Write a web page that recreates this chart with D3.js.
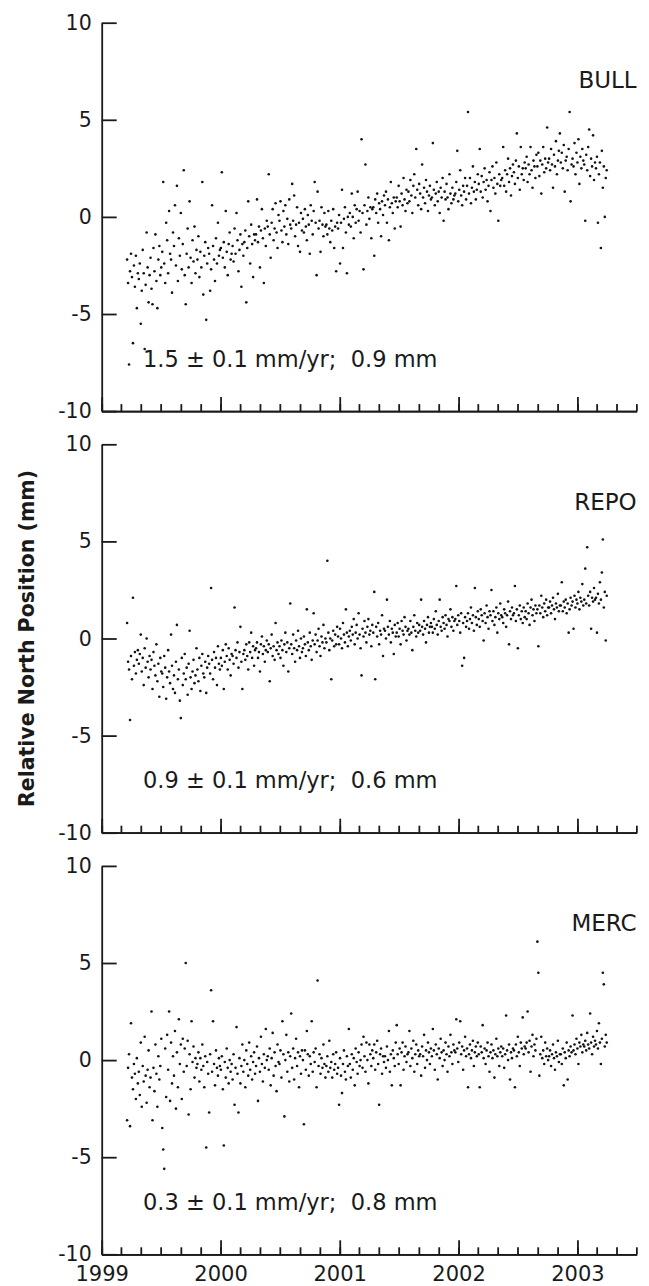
<!DOCTYPE html>
<html>
<head>
<meta charset="utf-8">
<script src="https://cdn.jsdelivr.net/npm/d3@7"></script>
<style>
  body { margin: 0; background: #fff; }
  text { font-family: "DejaVu Sans", sans-serif; fill: #1a1a1a; }
</style>
</head>
<body>
<svg id="chart" width="649" height="1286"></svg>
<script>
// station names and the fitted rate text for each panel
const stations = ["BULL", "REPO", "MERC"];
const rateLabels = [
    "1.5 \u00b1 0.1 mm/yr;  0.9 mm",
    "0.9 \u00b1 0.1 mm/yr;  0.6 mm",
    "0.3 \u00b1 0.1 mm/yr;  0.8 mm"
];
const yTicks = [-10, -5, 0, 5, 10];
const yTitle = "Relative North Position (mm)";

// north position (mm), one value every 3 days from 1999-03-20
const bullNorth = [
    -2.2, -3.4, -7.6, -2.8, -1.9, -3.1, -6.5, -2.5, -3.6, -2.0, -4.7, -2.9,
    -3.2, -2.4, -5.5, -3.8, -1.7, -2.9, -6.8, -3.5, -0.8, -2.6, -4.4, -3.0,
    -2.1, -3.7, -4.5, -1.6, -2.8, -0.9, -3.3, -4.7, -2.2, -1.5, -3.0, -2.6,
    -1.8, 1.8, -2.4, -3.4, -0.3, -1.2, -2.9, 0.3, -1.9, -2.2, -3.9, -0.8,
    -1.5, 0.6, -2.5, 1.6, -3.3, -1.1, -2.0, 0.2, -2.7, -1.4, 2.4, -3.0,
    -4.5, -1.9, -0.6, -2.6, 0.8, -2.1, -3.4, -1.2, -2.3, -0.5, -2.9, -1.7,
    -2.2, -1.0, -3.1, -1.8, -2.6, 1.8, -4.0, -2.0, -1.3, -5.3, -2.4, -1.6,
    -1.9, -3.8, -2.7, 0.6, -1.5, -2.2, -3.3, -1.1, -2.4, -0.3, -2.0, -1.7,
    -1.6, 2.3, -2.1, -1.3, -2.6, 0.3, -1.8, -3.0, -1.4, -0.8, -2.2, -1.9,
    -1.5, -2.3, -0.6, -1.9, 0.2, -1.2, -2.8, -1.7, -0.9, -3.6, -1.4, -2.0,
    -1.3, -0.7, -4.4, -1.6, 0.8, -1.0, -2.4, -0.4, -1.4, -3.1, -0.9, -1.2,
    -0.9, 0.9, -1.3, -0.5, -2.6, -0.7, 0.4, -1.1, -3.4, -0.6, -1.5, -0.2,
    -0.5, 2.2, -0.9, -2.1, -0.3, 0.4, -1.2, -0.6, 0.7, -0.8, -1.6, 0.1,
    -0.2, 0.8, -0.7, -1.3, 0.3, -0.5, 0.6, -0.9, -0.1, -1.4, 0.9, -0.4,
    -0.6, 1.7, -0.2, 1.1, -1.0, -0.4, 0.5, -1.5, -0.3, -1.8, 0.2, -0.7,
    -0.1, -0.8, 0.4, -0.5, -1.2, 0.1, -0.4, -1.9, 0.6, -0.2, -0.9, 0.3,
    1.8, -0.3, -3.0, 1.3, -0.6, -0.2, -1.8, 0.5, -0.4, -1.0, 0.2, -0.5,
    -0.4, -0.9, 0.3, -0.6, -1.3, -0.2, -0.7, 0.4, -1.6, -0.5, -2.8, -0.3,
    -0.6, 0.1, -2.4, -0.3, 1.4, -1.6, -0.1, 0.5, -0.8, -2.9, 0.0, -0.4,
    0.2, -0.5, 1.2, 0.0, -1.1, 0.6, -0.3, 0.4, 1.3, -0.2, 0.3, -0.8,
    4.0, 0.2, -2.7, 0.6, 2.7, -0.4, 0.3, 1.0, -0.1, 0.5, -1.1, 0.4,
    0.5, -2.0, 0.9, 0.2, 1.2, -0.3, 0.7, 0.4, -1.0, 0.8, 0.1, 1.1,
    0.6, 1.3, -0.3, 0.9, -1.2, 0.5, 1.8, 0.7, 0.2, 1.0, -0.6, 0.8,
    1.0, 0.5, 1.6, 0.8, -0.5, 1.2, 0.6, 2.0, 0.9, 0.3, 1.4, 0.7,
    1.3, 0.8, 1.9, 1.1, 0.2, 1.6, 2.2, 1.0, 3.5, 1.4, 0.6, 1.7,
    1.2, 0.4, 2.7, 1.0, 1.5, 0.7, 1.9, 1.3, 0.3, 1.1, 1.6, 0.9,
    1.0, 3.8, 1.4, 0.6, 1.2, 1.8, 0.8, 1.3, 0.2, 1.5, 1.0, 2.0,
    -0.2, 1.3, 0.9, 1.7, 1.0, 0.4, 2.2, 1.2, 0.7, 1.5, 0.9, 1.1,
    1.2, 1.8, 3.4, 0.8, 1.4, 2.4, 1.1, 0.6, 1.6, 1.3, 2.0, 0.9,
    1.6, 5.4, 1.2, 2.0, 0.7, 1.5, 2.6, 1.3, 1.8, 0.9, 1.4, 2.2,
    1.7, 3.5, 1.3, 2.1, 1.0, 1.8, 2.5, 1.4, 1.9, 0.8, 1.6, 2.3,
    0.3, 1.9, 2.6, 1.5, 2.0, 1.2, 2.8, 1.7, -0.2, 2.2, 1.6, 1.9,
    2.0, 3.6, 1.6, 2.4, 1.3, 2.2, 3.0, 1.8, 2.5, 1.1, 2.1, 2.7,
    2.3, 1.7, 2.9, 4.3, 2.0, 2.6, 1.4, 3.6, 2.2, 2.5, 1.9, 2.8,
    2.5, 3.1, 1.8, 2.7, 2.2, 3.6, 2.4, 1.5, 2.9, 2.6, 2.0, 3.2,
    2.6, 3.3, 2.1, 2.9, 1.2, 2.7, 3.6, 2.3, 3.0, 2.5, 4.6, 2.8,
    3.0, 2.4, 3.5, 2.7, 1.5, 3.2, 2.6, 3.9, 2.2, 2.9, 3.4, 4.3,
    2.8, 3.3, 2.5, 3.7, 1.3, 2.9, 3.1, 2.4, 3.5, 5.4, 0.8, 2.7,
    3.0, 2.6, 3.8, 2.2, 3.3, 2.8, 4.0, 1.7, 3.1, 2.5, 3.5, 2.9,
    2.7, -0.2, 3.2, 2.4, 3.6, 4.5, 2.1, 3.0, 2.6, 4.2, 1.9, 2.8,
    2.5, 3.1, -0.3, 2.2, 2.8, -1.6, 3.4, 1.5, 2.6, 0.0, 2.0, 2.4
];

const repoNorth = [
    0.8, -1.2, -1.6, -4.2, -0.9, -2.1, 2.1, -1.4, -0.7, -1.8, -1.1, -0.6,
    -1.3, -0.8, 0.2, -1.7, -1.0, -2.4, -0.5, -1.5, 0.0, -1.2, -2.0, -0.9,
    -1.6, -1.1, -2.6, -0.7, -1.4, -1.9, -0.3, -2.2, -1.3, -3.0, -1.0, -1.7,
    -1.8, -2.5, -0.9, -1.5, -3.1, -2.0, -0.6, -1.7, -2.3, 0.2, -1.4, -2.6,
    -1.9, -2.8, -1.2, 0.7, -2.1, -1.6, -3.2, -4.1, -1.0, -2.4, -1.8, -0.8,
    -2.1, -1.5, -2.9, -1.3, 0.4, -2.0, -2.6, -1.7, -1.1, -2.3, -1.9, -0.5,
    -1.6, -2.2, -1.0, -2.7, -1.4, -0.8, -1.8, -2.0, -1.2, -2.8, -1.5, -0.9,
    -1.3, -1.8, 2.6, -1.1, -2.1, -0.7, -1.5, -1.0, -2.4, -0.4, -1.3, -1.6,
    -1.0, -1.4, -0.6, -2.6, -1.2, -0.3, -0.9, -1.6, -0.5, -1.1, -1.9, -0.8,
    -0.9, -1.3, 1.6, -0.6, -1.0, -0.2, -1.5, -0.7, 0.6, -1.2, -2.6, -0.8,
    -0.6, -1.1, -0.3, -0.9, -1.6, -0.2, -0.7, 0.3, -1.0, -0.4, -1.4, -0.6,
    -0.5, -0.2, -1.0, -0.7, -1.7, -0.3, 0.1, -0.8, -0.4, -1.2, -0.6, -0.1,
    -0.7, -0.3, -2.2, -0.5, 0.2, -0.9, -0.4, -1.1, 0.8, -0.6, -0.2, -0.8,
    -0.4, -1.0, -0.1, -0.6, -1.4, -0.3, 0.3, -0.7, -0.2, -1.7, -0.5, 1.8,
    -0.3, -0.8, 0.2, -0.5, -1.2, -0.1, -0.6, 0.4, -0.4, -1.0, 0.0, -0.7,
    -0.5, 0.1, -0.3, -0.9, 1.5, -0.2, -0.6, 0.3, -0.4, -1.1, -0.1, 1.3,
    -0.3, 0.2, -0.7, -0.1, 0.5, -0.4, -0.9, 0.1, -0.2, 0.7, -0.5, 0.0,
    -0.2, 4.0, 0.3, -0.6, 0.0, -2.1, -0.1, 0.4, -0.4, 0.2, -0.3, 0.6,
    0.1, -0.3, 0.5, 0.0, -0.5, 0.8, 0.2, -0.2, 1.5, 0.3, -0.4, 0.1,
    0.4, -0.1, 0.6, 0.2, 1.0, -0.3, 0.3, 0.7, 0.0, 1.3, 0.2, -0.5,
    -1.9, 0.5, 0.1, 0.9, 0.3, -0.2, 0.6, 1.0, 0.2, 0.4, -0.4, 0.7,
    0.3, 2.4, -2.1, 0.6, 0.1, 0.8, -0.3, 0.4, 0.2, 1.2, -0.9, 0.5,
    0.4, 0.0, 2.0, 0.6, 0.2, 0.9, -0.2, 0.5, 0.3, -0.8, 0.7, 0.1,
    0.3, 0.8, 0.1, 0.5, -0.3, 0.9, 0.4, 0.2, 1.1, 0.6, -0.1, 0.4,
    0.5, 0.2, 0.9, 0.3, -0.6, 0.6, 1.2, 0.4, 0.1, 0.8, 0.3, 0.7,
    0.4, 2.0, 0.6, 0.2, 0.9, 0.5, -0.2, 0.7, 1.1, 0.3, 0.6, 0.8,
    0.6, 0.3, 1.0, 0.5, 1.4, 0.7, 0.2, 0.9, 2.0, 0.6, 0.4, 1.1,
    0.8, 0.5, 1.2, 0.7, 0.1, 1.0, 0.9, 1.5, 0.6, 1.1, 0.4, 0.9,
    1.0, 2.7, 0.7, 1.2, 0.9, 0.3, 1.3, -1.4, 0.8, -1.0, 1.1, 0.6,
    0.9, 1.3, 0.5, 1.0, 1.6, 0.8, 1.2, 0.4, 2.6, 1.1, 0.7, 1.4,
    1.0, 0.6, 1.5, 1.2, 0.9, -0.1, 1.3, 0.8, 1.7, 1.1, 0.5, 1.4,
    1.2, 2.5, 0.9, 1.4, 0.7, 1.1, 1.6, 0.3, 1.3, 1.0, 1.8, 1.2,
    1.1, 0.8, 1.5, 1.3, 0.6, 1.2, 1.9, -0.3, 1.4, 1.0, 1.6, 1.2,
    1.3, 2.7, 0.9, 1.5, -0.5, 1.2, 1.7, 1.0, 1.4, 0.8, 1.6, 1.1,
    1.4, 1.0, 1.8, 1.3, 0.7, 1.6, 2.0, 1.2, 1.5, 0.9, 1.7, 1.3,
    1.5, -0.4, 1.7, 1.3, 2.2, 1.6, 1.1, 1.8, 1.4, 2.0, 1.2, 1.6,
    1.6, 1.9, 1.3, 1.7, 2.1, 1.5, 1.0, 1.8, 1.6, 2.3, 1.4, 1.7,
    1.7, 2.9, 1.4, 1.9, 1.6, 2.0, 1.3, 1.8, 0.3, 1.5, 2.1, 1.7,
    1.9, 0.5, 2.2, 1.6, 2.0, 1.8, 2.4, 1.5, 2.1, 1.9, 2.8, 1.7,
    2.0, 3.6, 1.8, 4.7, 2.2, 1.7, 2.4, 0.5, 2.1, 1.9, 2.6, 2.0,
    2.1, 0.3, 2.3, 1.8, 2.9, 2.0, 3.4, 5.1, 1.6, 2.4, -0.1, 2.2
];

const mercNorth = [
    -3.1, -0.4, 0.3, -3.4, 1.9, -0.9, -1.5, -0.2, -0.7, -2.0, 0.1, -1.2,
    -0.6, -1.8, 0.9, -2.4, -0.3, -1.1, 1.2, -0.8, -2.2, -0.5, 0.5, -1.4,
    -0.9, 2.5, -3.1, -0.4, -1.6, 0.8, -0.7, -2.4, 0.2, -1.0, -0.3, 1.1,
    -3.5, -4.6, -5.6, 0.6, -1.9, 1.3, -0.5, 2.5, -2.1, 0.9, -1.2, 0.2,
    -0.8, 1.5, -2.5, 0.4, -1.4, 2.1, -0.2, 0.8, -2.0, 1.1, -0.6, 0.6,
    5.0, -0.3, 1.0, -2.8, 0.3, -1.5, 2.0, -0.1, 0.7, -0.9, 0.1, -0.4,
    -0.2, 0.4, -1.1, 0.1, -0.5, 0.8, -0.3, -1.4, 0.2, -4.5, -0.1, -0.7,
    -2.7, 0.3, 3.6, -0.6, 2.0, -0.2, -1.3, 0.5, -0.4, -0.8, 0.1, -0.3,
    -0.5, 0.2, -1.5, -4.4, -0.1, -0.9, 0.6, -0.4, -1.2, 0.0, -0.6, -0.2,
    -1.0, 0.3, -2.3, -0.4, 1.7, -0.7, -2.7, 0.1, -1.2, -0.3, 0.8, -0.6,
    0.0, -1.4, 0.5, -0.2, -0.8, 0.9, -0.5, 0.2, -1.0, -0.1, 0.4, -0.7,
    -0.3, 0.7, -2.1, 0.1, -0.6, 1.2, -0.2, -1.1, 0.3, -0.4, 1.6, 0.0,
    0.2, -0.5, 0.6, -1.3, 0.1, 1.4, -0.8, 0.4, -0.3, -1.6, 0.8, -0.1,
    -0.2, 0.5, -0.9, 2.0, 0.3, -2.9, 0.0, 1.3, -0.6, 0.4, -1.1, 0.2,
    2.4, -0.4, 0.6, -1.0, 0.1, 1.1, -0.3, 0.4, -1.4, 0.2, -0.7, 0.5,
    0.0, -3.3, 0.5, -0.5, 1.5, 0.3, -0.8, 0.2, -0.2, 2.0, -0.6, 0.4,
    -0.1, 0.6, -1.4, 4.1, -0.3, 0.3, -0.7, 0.1, -0.4, 0.8, -0.2, -0.9,
    -0.3, 0.2, -0.6, 1.0, -0.4, -0.1, -0.9, 0.3, -0.5, -0.2, 0.4, -0.7,
    -0.4, -2.3, 0.1, -0.8, -1.7, -0.2, 0.5, -0.6, -1.0, 0.2, -0.3, 1.6,
    -0.2, -0.9, 0.3, -0.5, 0.1, -1.3, 0.6, -0.1, -0.7, 0.4, -0.3, 0.0,
    0.8, -0.4, 1.2, 0.2, -0.6, 0.9, 0.0, -1.2, 0.8, 0.3, -0.3, 0.5,
    0.1, 0.8, -0.5, 0.4, 1.0, -0.2, -2.3, 0.3, 0.6, -0.7, 0.2, -0.1,
    0.2, -0.4, 0.7, 0.0, 1.5, -0.6, 0.3, -1.3, 0.5, 0.1, -0.3, 0.9,
    1.8, 0.3, -0.2, 0.6, -1.3, 0.4, 0.9, -0.5, 0.2, 0.7, -0.1, 0.3,
    0.4, 1.5, -0.3, 0.6, 0.1, 1.0, -0.6, 0.3, 0.8, -0.2, 0.5, 0.2,
    0.3, -0.8, 0.7, 0.2, 1.3, -0.4, 0.5, 0.0, 0.9, 0.4, -0.2, 0.6,
    0.2, 1.6, 0.5, -0.5, 0.8, 0.3, -1.0, 0.6, 0.1, 1.1, 0.4, -0.3,
    0.5, 0.0, 0.9, 0.3, -0.6, 0.7, 0.2, 1.3, 0.4, -0.2, 0.8, 0.5,
    0.4, 2.1, 0.6, -0.1, 0.9, 2.0, 0.3, 0.7, -0.5, 0.5, 1.2, 0.2,
    0.6, -1.4, 0.3, 0.8, 0.1, 0.5, 1.0, -0.3, 0.4, 0.7, 0.2, 0.9,
    0.3, -1.4, 0.7, 0.4, 1.8, 0.1, 0.6, -0.2, 0.5, 0.9, 0.2, -0.6,
    0.4, 0.8, 0.1, 0.5, -0.9, 0.3, 1.1, 0.2, 0.6, -0.3, 0.4, 0.7,
    0.2, 0.6, -0.4, 0.3, 2.3, 0.5, 0.0, 0.8, -1.0, 0.4, 0.1, 0.6,
    0.5, -1.4, 0.8, 0.2, 1.2, 0.4, -0.3, 0.9, 0.6, 2.2, 0.3, 0.7,
    0.6, 0.9, 2.5, 0.4, 1.0, -0.6, 0.7, 1.3, 0.2, 0.8, 0.5, 1.1,
    6.1, 4.5, -0.8, 0.3, 1.2, 0.1, 0.5, -0.2, 0.9, 0.2, 0.6, 0.0,
    0.2, 0.5, -0.3, 0.3, 0.8, 0.1, -0.5, 0.4, 0.2, 1.0, -0.1, 0.3,
    0.3, -0.2, 0.6, -1.3, 0.4, 0.1, 0.9, -1.0, 0.5, 0.2, 0.7, 0.4,
    2.3, 0.5, 0.8, 0.3, 1.1, 0.6, -0.2, 0.9, 0.7, 1.3, 0.4, 0.8,
    0.7, 1.0, 0.5, 1.4, 0.8, 0.6, 2.4, 0.9, 0.3, 1.2, 0.7, 1.0,
    0.8, 1.5, 0.6, 1.9, 0.9, -0.2, 1.1, 4.5, 3.9, 0.7, 1.3, 0.9
];

const series = [bullNorth, repoNorth, mercNorth];

// layout
const svg = d3.select("#chart");
const left = 101.7, right = 636.7;
const panelH = 388.4;
const panelTops = [22.7, 444.3, 865.9];
const ink = "#1a1a1a";

const x = d3.scaleTime()
    .domain([new Date(1999, 0, 1), new Date(2003, 6, 2)])
    .range([left, right]);

// observation epochs: one solution every 3 days
const obsDays = d3.timeDay.range(new Date(1999, 2, 20), new Date(2003, 3, 2), 3);

function styleAxis(g, size){
    g.attr("font-family", "DejaVu Sans").attr("font-size", size);
    g.selectAll("path, line").attr("stroke", ink).attr("stroke-width", 1.8);
    g.selectAll("text").attr("fill", ink);
}

series.forEach((vals, i) => {
    const top = panelTops[i];
    const bottom = top + panelH;
    const y = d3.scaleLinear().domain([-10, 10]).range([bottom, top]);
    const panel = svg.append("g").attr("class", "panel");

    let pts = vals.map((v, j) => ({date: obsDays[j], v: v})).filter(d => d.date);

    panel.append("g").selectAll("circle").data(pts)
        .enter().append("circle")
            .attr("cx", d => x(d.date))
            .attr("cy", d => y(d.v))
            .attr("r", 1.3)
            .attr("fill", "#111");

    // y axis, ticks pointing inward; plain hyphen for negatives
    panel.append("g")
        .attr("transform", `translate(${left},0)`)
        .call(d3.axisLeft(y).tickValues(yTicks).tickSizeInner(-15).tickSizeOuter(0)
            .tickPadding(10).tickFormat(d => String(d)))
        .call(g => styleAxis(g, 20.5));

    // minor x ticks every 2 months
    panel.append("g")
        .attr("transform", `translate(0,${bottom})`)
        .call(d3.axisBottom(x).ticks(d3.timeMonth.every(2)).tickSizeInner(-7).tickSizeOuter(0).tickFormat(""))
        .call(g => styleAxis(g, 21));

    // major x ticks (years), labels only on the last panel
    panel.append("g")
        .attr("transform", `translate(0,${bottom})`)
        .call(d3.axisBottom(x).ticks(d3.timeYear.every(1)).tickSizeInner(-14).tickSizeOuter(0)
            .tickPadding(12).tickFormat(i === 2 ? d3.timeFormat("%Y") : () => ""))
        .call(g => styleAxis(g, 21));

    // station name
    panel.append("text")
        .attr("x", right)
        .attr("y", top + 65.5)
        .attr("text-anchor", "end")
        .attr("font-size", 23)
        .text(stations[i]);

    // rate annotation
    panel.append("text")
        .attr("x", 143)
        .attr("y", top + 344)
        .attr("font-size", 22.5)
        .style("white-space", "pre")
        .text(rateLabels[i]);
});

// y title
svg.append("text")
    .attr("transform", `translate(34,${panelTops[1] + panelH / 2}) rotate(-90)`)
    .attr("text-anchor", "middle")
    .attr("font-size", 20.5)
    .attr("font-weight", "bold")
    .text(yTitle);
</script>
</body>
</html>
